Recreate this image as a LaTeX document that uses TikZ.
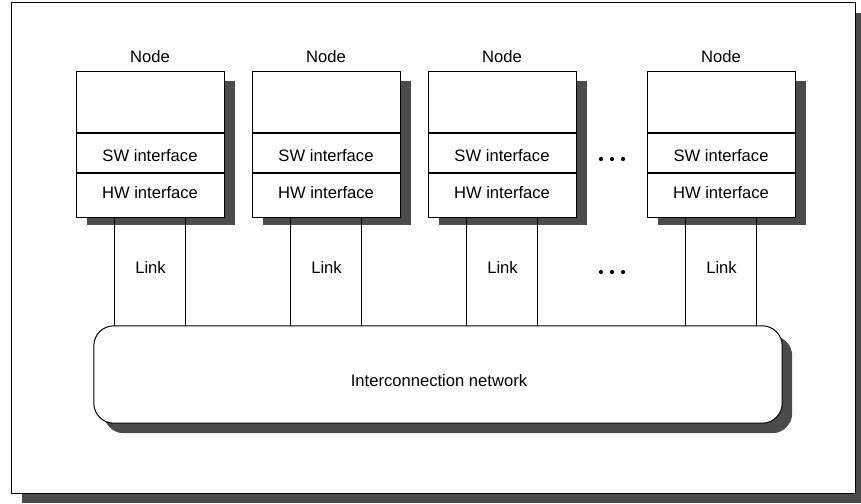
\documentclass[tikz,border=0pt]{standalone}
\usepackage{fontspec}
\setmainfont{Liberation Sans}
\definecolor{shd}{HTML}{4B4B4B}
\begin{document}
\begin{tikzpicture}[x=1pt,y=-1pt,
  lw/.style={line width=1pt},
  part/.style={draw,lw,fill=white,inner sep=0pt,minimum width=148pt,anchor=north},
  txt/.style={inner sep=0pt,anchor=base,font=\fontsize{16.6}{20}\selectfont},
  shadowfill/.style={fill=shd,draw=none},
  dot/.style={fill=black,draw=none}
]
\useasboundingbox (0,0) rectangle (861,503);
% outer frame
\fill[shadowfill] (22,13) rectangle (861,503);
\draw[lw,fill=white] (11,3) rectangle (855,493);

% nodes
\foreach \i/\cx in {1/150,2/326,3/502,4/721}{
  \fill[shadowfill] (\cx-74+11,71+10) rectangle (\cx+74+11,215+10);
  \node[part,minimum height=61pt] (t\i) at (\cx,71) {};
  \node[part,minimum height=39pt] (s\i) at (t\i.south) {};
  \node[part,minimum height=44pt] (h\i) at (s\i.south) {};
  \node[txt] (nl\i) at (\cx,62.7) {Node};
  \node[txt] (sl\i) at (\cx,161.7) {SW interface};
  \node[txt] (hl\i) at (\cx,198.3) {HW interface};
  \node[txt] (ll\i) at (\cx+0.5,273.3) {Link};
}

% network
\node[draw=none,inner sep=0pt,minimum width=688pt,minimum height=97pt] (net) at (438,374.5) {};
\fill[shadowfill,rounded corners=20pt] ([shift={(10,10)}]net.south west) rectangle ([shift={(10,10)}]net.north east);
\draw[lw,fill=white,rounded corners=20pt] (net.south west) rectangle (net.north east);
\node[txt] (netl) at (439,386.7) {Interconnection network};

% links
\foreach \i in {1,2,3,4}{
  \draw[lw] ([xshift=-35.5pt]h\i.south) -- ([xshift=-35.5pt]h\i.south |- net.north);
  \draw[lw] ([xshift=35.5pt]h\i.south) -- ([xshift=35.5pt]h\i.south |- net.north);
}

% dots
\foreach \y in {159,272}{
  \foreach \x in {601,612,623}{
    \fill[dot] (\x,\y) circle (2.1pt);
  }
}
\end{tikzpicture}
\end{document}
